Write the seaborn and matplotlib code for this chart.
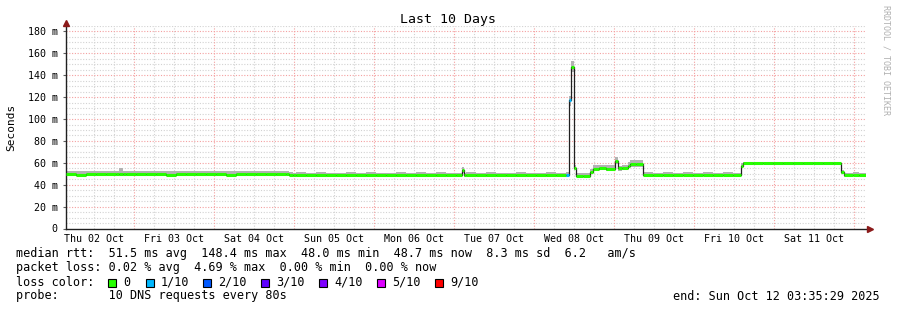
import matplotlib
matplotlib.use('Agg')
import matplotlib.pyplot as plt
import seaborn as sns
import numpy as np
import pandas as pd
from matplotlib.patches import Rectangle

# ---------------- data (hours since start, values in ms) ----------------
times_h = [
    0, 3, 6, 9, 12, 15, 16, 17, 18, 21,
    24, 27, 30, 33, 36, 39, 42, 45, 48, 51,
    54, 57, 60, 63, 66, 67, 68, 69, 72, 75,
    78, 81, 84, 87, 90, 93, 96, 99, 102, 105,
    108, 111, 114, 117, 118.8, 119.5, 120, 123, 126, 129,
    132, 135, 138, 141, 144, 147, 150, 150.9, 151.5, 152.4,
    153.0, 155, 157.2, 158, 160, 162, 164.7, 165.6, 166.8, 168.6,
    169.2, 171, 173.1, 176, 179, 182, 185, 188, 191, 194,
    197, 200, 202.5, 203.2, 206, 209, 212, 215, 218, 221,
    224, 227, 230, 232.5, 233.3, 236, 238, 240,
]
median_ms = [
    49.6, 49.3, 49.8, 49.5, 49.4, 49.7, 50.2, 49.5, 49.6, 49.4,
    49.7, 49.5, 49.3, 49.6, 49.8, 49.4, 49.5, 49.7, 49.3, 49.6,
    49.5, 49.4, 49.8, 49.5, 49.6, 49.0, 48.7, 48.9, 48.6, 48.9,
    48.7, 48.5, 48.8, 48.6, 48.9, 48.7, 48.5, 48.8, 48.6, 48.9,
    48.7, 48.8, 48.5, 48.7, 53.0, 48.6, 48.8, 48.6, 48.9, 48.7,
    48.5, 48.8, 48.6, 48.7, 48.9, 48.6, 48.8, 117.0, 148.0, 55.0,
    48.3, 48.0, 51.5, 54.8, 55.0, 54.6, 61.8, 55.2, 55.5, 57.5,
    58.8, 59.0, 49.0, 48.9, 49.1, 48.8, 49.0, 48.9, 49.2, 48.8,
    49.0, 48.9, 57.5, 59.6, 59.5, 59.7, 59.6, 59.4, 59.6, 59.5,
    59.7, 59.6, 59.5, 51.5, 48.8, 49.0, 48.9, 49.0,
]
smoke_lo = [
    48.2, 48.0, 48.3, 48.1, 48.0, 48.3, 48.4, 48.1, 48.2, 48.0,
    48.3, 48.1, 47.9, 48.2, 48.4, 48.0, 48.1, 48.3, 47.9, 48.2,
    48.1, 48.0, 48.4, 48.1, 48.2, 47.6, 47.3, 47.5, 47.2, 47.5,
    47.3, 47.1, 47.4, 47.2, 47.5, 47.3, 47.1, 47.4, 47.2, 47.5,
    47.3, 47.4, 47.1, 47.3, 50.5, 47.2, 47.4, 47.2, 47.5, 47.3,
    47.1, 47.4, 47.2, 47.3, 47.5, 47.2, 47.4, 112.0, 143.0, 53.0,
    47.0, 46.8, 49.5, 52.8, 53.0, 52.6, 58.5, 52.8, 53.0, 55.0,
    55.8, 56.0, 47.6, 47.5, 47.7, 47.4, 47.6, 47.5, 47.8, 47.4,
    47.6, 47.5, 55.5, 58.4, 58.3, 58.5, 58.4, 58.2, 58.4, 58.3,
    58.5, 58.4, 58.3, 49.5, 47.4, 47.6, 47.5, 47.6,
]
smoke_hi = [
    52.4, 52.1, 52.6, 52.3, 52.2, 52.5, 55.5, 52.3, 52.4, 52.2,
    52.5, 52.3, 52.1, 52.4, 52.6, 52.2, 52.3, 52.5, 52.1, 52.4,
    52.3, 52.2, 52.6, 52.3, 52.4, 51.4, 51.1, 51.3, 51.0, 51.3,
    51.1, 50.9, 51.2, 51.0, 51.3, 51.1, 50.9, 51.2, 51.0, 51.3,
    51.1, 51.2, 50.9, 51.1, 56.0, 51.0, 51.2, 51.0, 51.3, 51.1,
    50.9, 51.2, 51.0, 51.1, 51.3, 51.0, 51.2, 121.0, 153.0, 58.0,
    50.8, 50.5, 54.0, 57.8, 58.2, 57.8, 65.5, 57.5, 58.0, 61.0,
    62.5, 63.0, 51.2, 51.1, 51.3, 51.0, 51.2, 51.1, 51.4, 51.0,
    51.2, 51.1, 59.5, 61.0, 60.9, 61.1, 61.0, 60.8, 61.0, 60.9,
    61.1, 61.0, 60.9, 53.5, 51.0, 51.2, 51.1, 51.2,
]
loss_idx = [
    0, 0, 0, 0, 0, 0, 0, 0, 0, 0,
    0, 0, 0, 0, 0, 0, 0, 0, 0, 0,
    0, 0, 0, 0, 0, 0, 0, 0, 0, 0,
    0, 0, 0, 0, 0, 0, 0, 0, 0, 0,
    0, 0, 0, 0, 0, 0, 0, 0, 0, 0,
    0, 0, 0, 0, 0, 0, 1, 1, 0, 0,
    0, 0, 0, 0, 0, 0, 0, 0, 0, 0,
    0, 0, 0, 0, 0, 0, 0, 0, 0, 0,
    0, 0, 0, 0, 0, 0, 0, 0, 0, 0,
    0, 0, 0, 0, 0, 0, 0, 0,
]

day_labels = ['Thu 02 Oct', 'Fri 03 Oct', 'Sat 04 Oct', 'Sun 05 Oct', 'Mon 06 Oct',
              'Tue 07 Oct', 'Wed 08 Oct', 'Thu 09 Oct', 'Fri 10 Oct', 'Sat 11 Oct']
y_ticks = [0, 20, 40, 60, 80, 100, 120, 140, 160, 180]
y_tick_labels = ['0', '20 m', '40 m', '60 m', '80 m', '100 m', '120 m', '140 m', '160 m', '180 m']
loss_names = ['0', '1/10', '2/10', '3/10', '4/10', '5/10', '9/10']
loss_colors = ['#26ff00', '#00b8ff', '#0059ff', '#5e00ff', '#7e00ff', '#dd00ff', '#ff0000']
loss_box_px = [108, 146, 203, 261, 319, 377, 435]

start_hod = 3 + 35 / 60 + 29 / 3600   # start time of day (hours)
span_h = 240

legend_lines = [
    'median rtt:  51.5 ms avg  148.4 ms max  48.0 ms min  48.7 ms now  8.3 ms sd  6.2   am/s',
    'packet loss: 0.02 % avg  4.69 % max  0.00 % min  0.00 % now',
    'loss color:',
    'probe:       10 DNS requests every 80s',
]

# ---------------- figure ----------------
W, H = 897, 310
MONO = 'DejaVu Sans Mono'
plt.rcParams['font.family'] = [MONO, 'DejaVu Sans']
fig = plt.figure(figsize=(W / 100, H / 100), dpi=100)
fig.patch.set_facecolor('white')
ax_top, ax_bot = 26, 228.5
ax = fig.add_axes([66 / W, (H - ax_bot) / H, 800 / W, (ax_bot - ax_top) / H])
ax.set_facecolor('white')
ax.set_xlim(0, span_h)
ax.set_ylim(0, 185)

# grid
first_mid = 24 - start_hod
for i in range(-2, 45):
    x = first_mid + 6 * i
    if 0 < x < span_h + 1:
        if i % 4 == 0:
            ax.axvline(x, color='#f4a0a0', lw=0.8, ls=(0, (1, 1.5)), zorder=0.5)
        else:
            ax.axvline(x, color='#d2d2d2', lw=0.8, ls=(0, (1, 1.5)), zorder=0.4)
for y in range(5, 186, 5):
    if y % 20 == 0:
        ax.axhline(y, color='#f4a0a0', lw=0.8, ls=(0, (1, 1.5)), zorder=0.5)
    else:
        ax.axhline(y, color='#d2d2d2', lw=0.8, ls=(0, (1, 1.5)), zorder=0.4)

df = pd.DataFrame({'t': times_h, 'median': median_ms, 'lo': smoke_lo,
                   'hi': smoke_hi, 'loss': loss_idx})

# smoke
ax.fill_between(df['t'], df['lo'], df['hi'], step='post', color='#b2b2b2',
                lw=0, zorder=1)
# thin dark median line
sns.lineplot(data=df, x='t', y='median', drawstyle='steps-post', color='#202020',
             lw=0.9, ax=ax, zorder=2, legend=False)
# loss coloured median segments
seg_cols = [loss_colors[k] for k in df['loss'][:-1]]
ax.hlines(df['median'][:-1], df['t'][:-1], df['t'][1:], colors=seg_cols, lw=2.2,
          zorder=3)

# axes styling
for s in ['top', 'right']:
    ax.spines[s].set_visible(False)
for s in ['left', 'bottom']:
    ax.spines[s].set_color('#202020')
    ax.spines[s].set_linewidth(1.0)
ax.set_yticks(y_ticks)
ax.set_yticklabels(y_tick_labels, family=MONO, fontsize=7.2)
noon = [first_mid - 12 + 24 * k for k in range(len(day_labels))]
ax.set_xticks(noon)
ax.set_xticklabels(day_labels, family=MONO, fontsize=7.2)
ax.tick_params(axis='x', length=0, pad=4)
ax.tick_params(axis='y', length=2, width=0.8, color='#606060', pad=4)
ax.set_xlabel('')
ax.set_ylabel('')

# axis arrows
ax.plot([0], [1.015], marker='^', ms=4, color='#8b1a1a', transform=ax.transAxes,
        clip_on=False, zorder=5)
ax.plot([1.005], [0], marker='>', ms=4, color='#8b1a1a', transform=ax.transAxes,
        clip_on=False, zorder=5)

# titles
fig.text(448 / W, 1 - 20 / H, 'Last 10 Days', ha='center', va='center',
         family=MONO, fontsize=9.5)
fig.text(11 / W, 1 - 127 / H, 'Seconds', ha='center', va='center', rotation=90,
         family=MONO, fontsize=8)
fig.text(886 / W, 1 - 5 / H, 'RRDTOOL / TOBI OETIKER', ha='center', va='top',
         rotation=-90, family=MONO, fontsize=6, color='#b0b0b0')

# legend area
line_y = [254, 268, 282, 296]
for txt, yy in zip(legend_lines, line_y):
    fig.text(16 / W, 1 - yy / H, txt, ha='left', va='center', family=MONO,
             fontsize=8.5)
for name, col, bx in zip(loss_names, loss_colors, loss_box_px):
    fig.patches.append(Rectangle((bx / W, 1 - 286.5 / H), 8 / W, 8 / H,
                                 transform=fig.transFigure, facecolor=col,
                                 edgecolor='black', lw=0.8))
    fig.text((bx + 15) / W, 1 - 282 / H, name, ha='left', va='center',
             family=MONO, fontsize=8.5)
fig.text(880 / W, 1 - 296 / H, 'end: Sun Oct 12 03:35:29 2025', ha='right',
         va='center', family=MONO, fontsize=8.5)

fig.savefig('out.png', dpi=100, facecolor='white')
